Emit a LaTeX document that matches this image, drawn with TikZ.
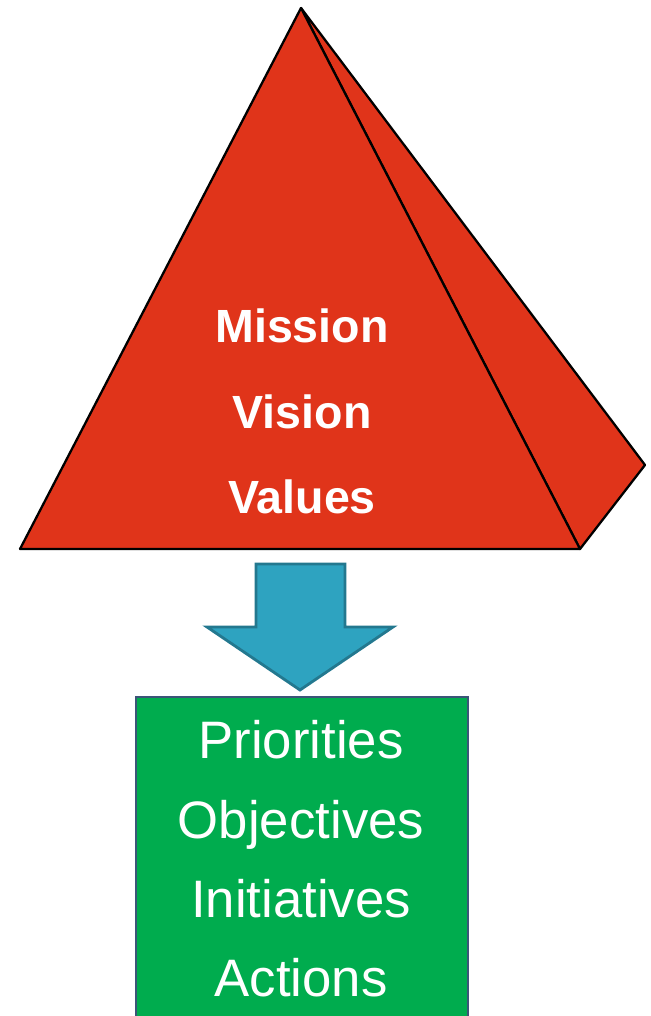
\documentclass[tikz,border=0pt]{standalone}
\usepackage{fontspec}
\setmainfont{Liberation Sans}
\usetikzlibrary{positioning}
\definecolor{pyred}{HTML}{E0341A}
\definecolor{arrblue}{HTML}{2EA3C0}
\definecolor{arredge}{HTML}{23788F}
\definecolor{boxgreen}{HTML}{00AC4E}
\definecolor{boxedge}{HTML}{3B5578}

\begin{document}
\begin{tikzpicture}[x=0.02cm, y=-0.02cm,
		face/.style = {fill=pyred, draw=black, line width=1.3pt, line join=round},
		redtext/.style = {text=white, text height=0.72em, text depth=0.21em,
			font=\bfseries\fontsize{26.5}{30}\selectfont},
		greentext/.style = {text=white, text height=0.72em, text depth=0.21em,
			font=\fontsize{30}{34}\selectfont}
		]
		\useasboundingbox (0,0) rectangle (650,1016);
		\clip (0,0) rectangle (650,1016);
		% pyramid
		\coordinate (apex) at (301,8);
		\coordinate (bl) at (20,549);
		\coordinate (br) at (580,549);
		\coordinate (back) at (645,465);
		\draw[face] (apex) -- (back) -- (br) -- cycle;
		\draw[face] (apex) -- (br) -- (bl) -- cycle;
		\node[redtext] (mission) at (302,338) {Mission};
		\node[redtext] (vision) at (302,424) {Vision};
		\node[redtext] (values) at (302,509) {Values};
		% arrow
		\draw[fill=arrblue, draw=arredge, line width=1.6pt, line join=miter]
			(256,564) -- (345,564) -- (345,627) -- (393,627) -- (300,690)
			-- (207,627) -- (256,627) -- cycle;
		% box
		\node[draw=boxedge, fill=boxgreen, line width=1pt, anchor=north west,
			minimum width=332*0.02cm, minimum height=360*0.02cm, inner sep=0pt] (plan) at (135,696) {};
		\node[greentext] (prio) at (301,754) {Priorities};
		\node[greentext] (obj) at (301,834) {Objectives};
		\node[greentext] (init) at (301,913) {Initiatives};
		\node[greentext] (act) at (301,992) {Actions};
	\end{tikzpicture}
\end{document}
